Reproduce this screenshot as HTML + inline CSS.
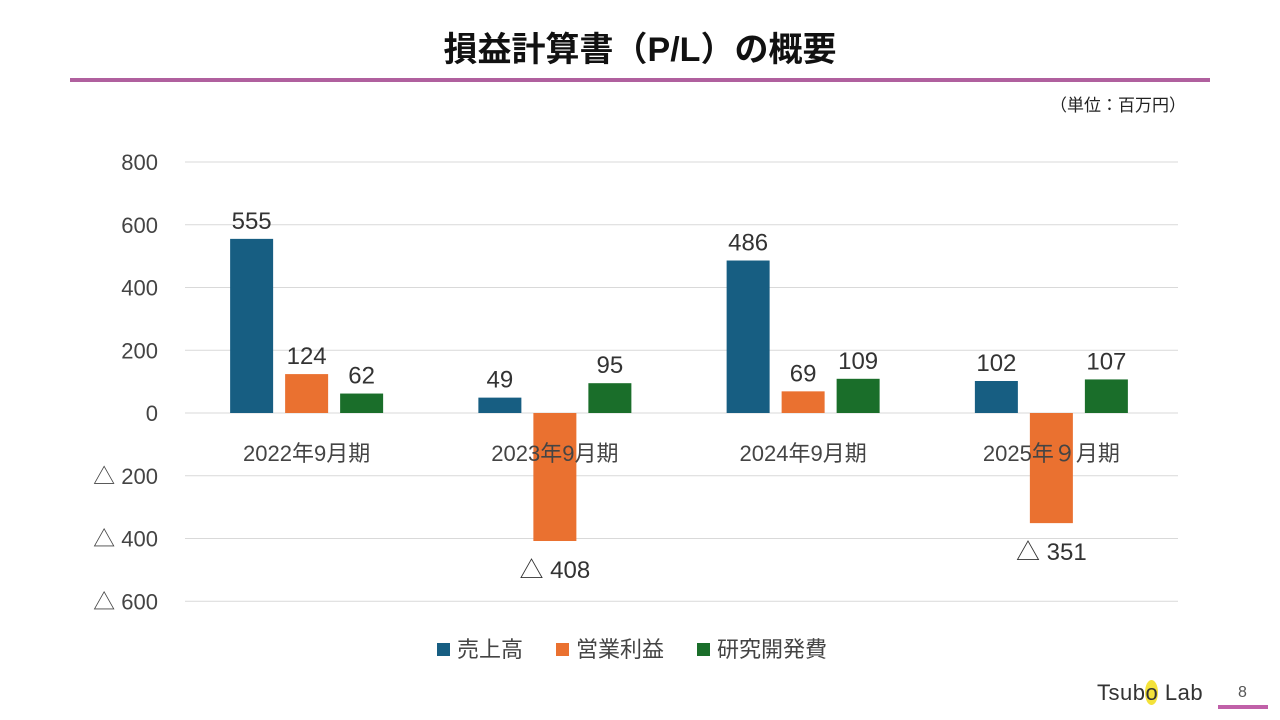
<!DOCTYPE html>
<html><head><meta charset="utf-8"><style>
body{margin:0;width:1280px;height:720px;background:#fff;overflow:hidden;font-family:"Liberation Sans","Noto Sans CJK JP",sans-serif;position:relative}
.t{position:absolute}
</style></head><body>
<div class="t" style="left:0;width:1280px;top:22px;text-align:center;font-size:34px;font-weight:bold;color:#111">損益計算書（P/L）の概要</div>
<div class="t" style="left:70px;top:78px;width:1140px;height:4px;background:#b0609e"></div>
<div class="t" style="left:1050px;top:91px;font-size:17px;color:#222">（単位：百万円）</div>
<svg class="t" style="left:0;top:0" width="1280" height="720" id="chart"></svg>
<div class="t" style="left:1097px;top:680px;font-size:22px;color:#333;letter-spacing:0.5px">Tsub<span style="background:#f4e23a;border-radius:50%">o</span> Lab</div>
<div class="t" style="left:1238px;top:684px;font-size:16px;color:#555">8</div>
<div class="t" style="left:1218px;top:705px;width:50px;height:4px;background:#c060a8"></div>
<script>
const categories=["2022年9月期","2023年9月期","2024年9月期","2025年９月期"];
const sales=[555,49,486,102];
const opProfit=[124,-408,69,-351];
const rnd=[62,95,109,107];
const ticks=[800,600,400,200,0,-200,-400,-600];
const seriesNames=["売上高","営業利益","研究開発費"];
const colors=["#175e82","#ea7130","#1a6e2a"];
const svg=document.getElementById('chart');
const NS="http://www.w3.org/2000/svg";
const x0=185,x1=1178,y0=413,pxPer=62.75/200;
const y=v=>y0-v*pxPer;
const gw=(x1-x0)/categories.length;
const fmt=v=>v<0?"△ "+(-v):String(v);
function add(tag,attrs,text){const e=document.createElementNS(NS,tag);for(const k in attrs)e.setAttribute(k,attrs[k]);if(text!==undefined)e.textContent=text;svg.appendChild(e);return e;}
ticks.forEach(t=>{
 const g=add('line',{x1:x0,x2:x1,y1:y(t),y2:y(t),stroke:'#d9d9d9','stroke-width':1});
 
 
 const l=add('text',{x:158,y:y(t)+8,'text-anchor':'end','font-size':22,fill:'#444','font-family':'Liberation Sans, Noto Sans CJK JP, sans-serif'},fmt(t));
 
 
});
const series=[sales,opProfit,rnd];
categories.forEach((c,i)=>{
 const cx=x0+gw*(i+0.5)-2.5;
 series.forEach((s,j)=>{
  const v=s[i];const bx=cx+(j-1)*55-21.5;
  const r=add('rect',{x:bx,y:Math.min(y(v),y0),width:43,height:Math.abs(y(v)-y0),fill:colors[j]});
  
  
  const ly=v>=0?y(v)-10:y(v)+37;
  const t=add('text',{x:bx+21.5,y:ly,'text-anchor':'middle','font-size':24,fill:'#333','font-family':'Liberation Sans, Noto Sans CJK JP, sans-serif'},fmt(v));
  
  
 });
 const ct=add('text',{x:cx,y:461,'text-anchor':'middle','font-size':22,fill:'#444','font-family':'Liberation Sans, Noto Sans CJK JP, sans-serif'},c);
 
 
});
const lx=[437,556,697];
seriesNames.forEach((n,j)=>{
 const r=add('rect',{x:lx[j],y:643,width:13,height:13,fill:colors[j]});
 
 
 const t=add('text',{x:lx[j]+20,y:657,'font-size':22,fill:'#444','font-family':'Liberation Sans, Noto Sans CJK JP, sans-serif'},n);
 
 
});
</script>
</body></html>
